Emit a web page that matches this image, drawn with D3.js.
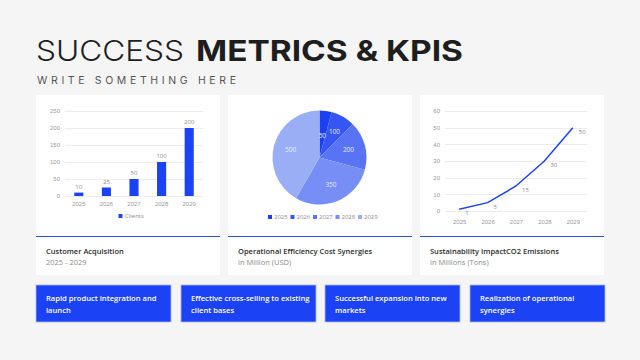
<!DOCTYPE html>
<meta charset="utf-8">
<style>
body { margin: 0; background: #f5f5f5; }
svg { display: block; font-family: "Open Sans", sans-serif; }
.grid line { stroke: #ececec; stroke-width: 1px; shape-rendering: crispEdges; }
.grid path { display: none; }
.tick text { fill: #9a9a9a; font-size: 6px; }
.lbl { fill: #8a8a8a; font-size: 6px; }
</style>
<body>
<svg width="640" height="360"></svg>
<script src="https://d3js.org/d3.v7.min.js"></script>
<script>
var years = ["2025", "2026", "2027", "2028", "2029"];
var clients = [10, 25, 50, 100, 200];
var savings = [50, 100, 200, 350, 500];
var emissions = [1, 5, 15, 30, 50];
var pieColors = ["#1b3ff3", "#3556f4", "#5874f4", "#768ef5", "#9aaef6"];
var cardTitles = ["Customer Acquisition", "Operational Efficiency Cost Synergies", "Sustainability ImpactCO2 Emissions"];
var cardSubs = ["2025 - 2029", "in Million (USD)", "in Millions (Tons)"];
var boxTexts = [["Rapid product integration and", "launch"], ["Effective cross-selling to existing", "client bases"],
  ["Successful expansion into new", "markets"], ["Realization of operational", "synergies"]];

var blue = "#1c42f5";
var svg = d3.select("svg");

// heading
svg.append("text").attr("x", 36).attr("y", 61)
    .style("font-family", "Inter").style("font-weight", 300).style("font-size", "28px")
    .attr("fill", "#1e1e1e").attr("textLength", 148).attr("lengthAdjust", "spacingAndGlyphs")
    .text("SUCCESS");
svg.append("text").attr("x", 196).attr("y", 61)
    .style("font-family", "Inter").style("font-weight", 700).style("font-size", "28px")
    .attr("fill", "#1e1e1e").attr("textLength", 267).attr("lengthAdjust", "spacingAndGlyphs")
    .text("METRICS & KPIS");
svg.append("text").attr("x", 37).attr("y", 84)
    .style("font-family", "Inter").style("font-size", "10.5px")
    .attr("fill", "#555").attr("textLength", 199)
    .text("WRITE SOMETHING HERE");

// cards
var cardX = [36, 228, 420], cardW = 184;
cardX.forEach(function(cx, i) {
  svg.append("rect").attr("x", cx).attr("y", 95).attr("width", cardW).attr("height", 180).attr("fill", "#fff");
  svg.append("line").attr("x1", cx).attr("x2", cx + cardW).attr("y1", 236.5).attr("y2", 236.5)
      .attr("stroke", "#2a50f6").attr("stroke-width", 1.2);
  svg.append("text").attr("x", cx + 10).attr("y", 254).attr("fill", "#2b2b2b")
      .style("font-size", "7.5px").style("font-weight", 600).text(cardTitles[i]);
  svg.append("text").attr("x", cx + 10).attr("y", 265).attr("fill", "#8c8c8c")
      .style("font-size", "7.5px").text(cardSubs[i]);
});

// bar chart
var x1 = d3.scaleBand().domain(years).range([65, 203]).paddingInner(0.67).paddingOuter(0.335);
var y1 = d3.scaleLinear().domain([0, 250]).range([196, 111]);
svg.append("g").attr("class", "grid").attr("transform", "translate(65,0)")
    .call(d3.axisLeft(y1).tickValues([0, 50, 100, 150, 200, 250]).tickSize(-138).tickPadding(5));
svg.append("g").attr("class", "grid").attr("transform", "translate(0,196)")
    .call(d3.axisBottom(x1).tickSize(0).tickPadding(6))
    .selectAll("line").remove();
svg.selectAll(".bar").data(clients).enter().append("rect").attr("class", "bar")
    .attr("x", function(d, i) { return x1(years[i]); })
    .attr("width", x1.bandwidth())
    .attr("y", function(d) { return y1(d); })
    .attr("height", function(d) { return y1(0) - y1(d); })
    .attr("fill", blue);
svg.selectAll(".blbl").data(clients).enter().append("text").attr("class", "lbl")
    .attr("text-anchor", "middle")
    .attr("x", function(d, i) { return x1(years[i]) + x1.bandwidth() / 2; })
    .attr("y", function(d) { return y1(d) - 4; })
    .text(function(d) { return d; });
svg.append("rect").attr("x", 118.5).attr("y", 214).attr("width", 4).attr("height", 4).attr("fill", blue);
svg.append("text").attr("class", "lbl").attr("x", 125).attr("y", 218.2).text("Clients");

// pie chart
var pie = d3.pie().sort(null)(savings);
var arc = d3.arc().innerRadius(0).outerRadius(47);
var labelArc = d3.arc().innerRadius(30).outerRadius(30);
var gp = svg.append("g").attr("transform", "translate(319.5,157.5)");
gp.selectAll("path").data(pie).enter().append("path")
    .attr("d", arc).attr("fill", function(d, i) { return pieColors[i]; });
gp.selectAll("text").data(pie).enter().append("text")
    .attr("transform", function(d, i) {
      var c = (i === 0 ? d3.arc().innerRadius(22).outerRadius(22) : labelArc).centroid(d);
      return "translate(" + c + ")";
    })
    .attr("text-anchor", "middle").attr("dy", "0.35em")
    .attr("fill", "#e8ecff").style("font-size", "6.5px")
    .text(function(d) { return d.data; });
var lg = svg.append("g");
years.forEach(function(yr, i) {
  var lx = 268 + i * 22.5;
  lg.append("rect").attr("x", lx).attr("y", 215).attr("width", 4).attr("height", 4).attr("fill", pieColors[i]);
  lg.append("text").attr("class", "lbl").attr("x", lx + 6).attr("y", 219.2).text(yr);
});

// line chart
var x3 = d3.scalePoint().domain(years).range([445, 587]).padding(0.5);
var y3 = d3.scaleLinear().domain([0, 60]).range([211, 111]);
svg.append("g").attr("class", "grid").attr("transform", "translate(445,0)")
    .call(d3.axisLeft(y3).tickValues([0, 10, 20, 30, 40, 50, 60]).tickSize(-142).tickPadding(5));
svg.append("g").attr("class", "grid").attr("transform", "translate(0,211)")
    .call(d3.axisBottom(x3).tickSize(0).tickPadding(9))
    .selectAll("line").remove();
var line = d3.line().x(function(d, i) { return x3(years[i]); }).y(function(d) { return y3(d); });
svg.append("path").datum(emissions).attr("d", line)
    .attr("fill", "none").attr("stroke", blue).attr("stroke-width", 1.5);
svg.selectAll(".llbl").data(emissions).enter().append("text").attr("class", "lbl")
    .attr("x", function(d, i) { return x3(years[i]) + 6; })
    .attr("y", function(d) { return y3(d) + 6; })
    .text(function(d) { return d; });

// bottom boxes
var boxX = [36, 181, 325, 470], boxW = 135;
boxX.forEach(function(bx, i) {
  svg.append("rect").attr("x", bx).attr("y", 285).attr("width", boxW).attr("height", 37)
      .attr("fill", blue).attr("stroke", "#a9b8fa").attr("stroke-width", 0.8);
  boxTexts[i].forEach(function(s, j) {
    svg.append("text").attr("x", bx + 10).attr("y", 301 + j * 11.5).attr("fill", "#fff")
        .style("font-size", "7.6px").style("font-weight", 600).text(s);
  });
});
</script>
</body>
</html>
